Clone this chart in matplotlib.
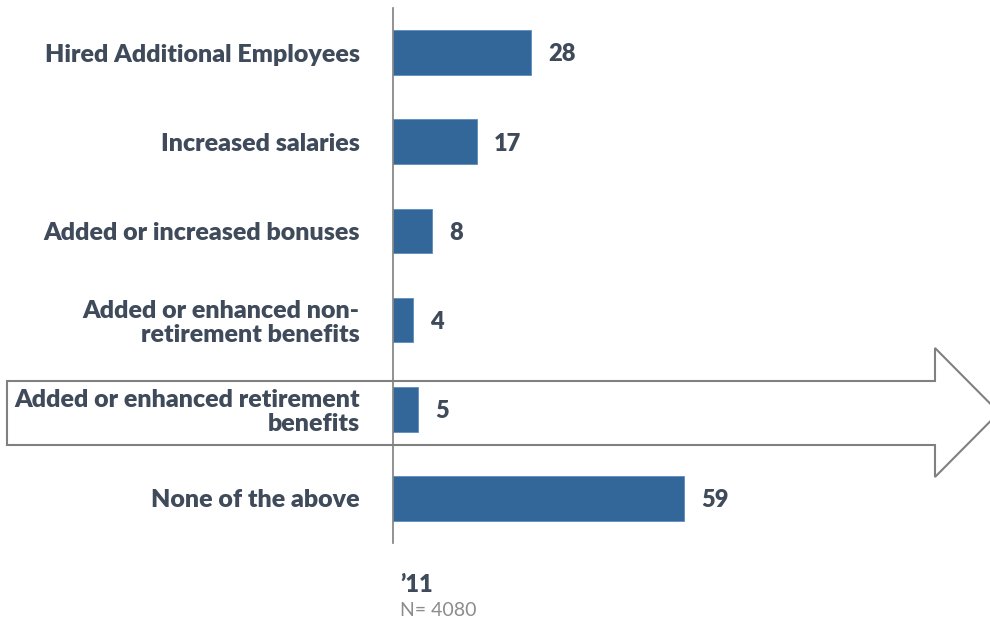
import matplotlib.pyplot as plt
from matplotlib.patches import Polygon

plt.rcParams["font.family"] = ["Lato", "DejaVu Sans"]

categories = [
    "Hired Additional Employees",
    "Increased salaries",
    "Added or increased bonuses",
    "Added or enhanced non-\nretirement benefits",
    "Added or enhanced retirement\nbenefits",
    "None of the above",
]
values = [28, 17, 8, 4, 5, 59]
year_label = "\u201911"
n_label = "N= 4080"

bar_color = "#336699"
text_color = "#3f4a5a"
W, H = 990, 621

fig = plt.figure(figsize=(W / 100, H / 100), dpi=100)

# arrow outline behind the chart (pixel coords, y measured from top)
arrow_px = [(7, 381), (935, 381), (935, 348), (999, 412.5),
            (935, 477), (935, 445), (7, 445)]
arrow = Polygon([(x / W, 1 - y / H) for x, y in arrow_px], closed=True,
                transform=fig.transFigure, facecolor="white",
                edgecolor="#808080", linewidth=1.5, zorder=-1)
fig.patches.append(arrow)

ax = fig.add_axes([393 / W, 1 - 543 / H, (W - 393) / W, 535 / H])
ax.set_zorder(1)
ax.patch.set_alpha(0)

y = list(range(len(categories)))
ax.barh(y, values, height=0.5, color=bar_color, edgecolor="#5b8cc0",
        linewidth=0.6, zorder=2)
for yi, v in zip(y, values):
    ax.text(v + 3.5, yi + 0.02, str(v), va="center", ha="left", fontsize=17,
            fontweight="heavy", color=text_color)

ax.set_xlim(0, (W - 393) / 4.93)
ax.set_ylim(len(categories) - 0.5, -0.5)

for s in ["top", "right", "bottom"]:
    ax.spines[s].set_visible(False)
ax.spines["left"].set_color("#7f7f7f")
ax.spines["left"].set_linewidth(1.2)
ax.set_xticks([])
ax.set_yticks(y)
ax.set_yticklabels(categories, fontsize=18, fontweight="heavy",
                   color=text_color, linespacing=1.1)
ax.tick_params(axis="y", length=0, pad=24)
for lbl in ax.get_yticklabels():
    lbl.set_horizontalalignment("right")
    lbl.set_multialignment("right")

fig.text(400 / W, 1 - 585 / H, year_label, fontsize=17, fontweight="heavy",
         color=text_color, ha="left", va="center")
fig.text(400 / W, 1 - 611 / H, n_label, fontsize=14, color="#8c8c8c",
         ha="left", va="center")

fig.savefig("out.png", dpi=100)
